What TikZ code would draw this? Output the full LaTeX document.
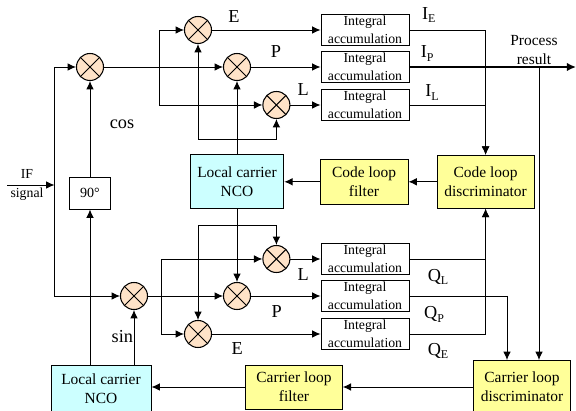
\documentclass[tikz,border=0pt]{standalone}
\usepackage{fontspec}
\setmainfont{Liberation Serif}
\usetikzlibrary{arrows.meta}
\definecolor{mixfill}{HTML}{FFE3C8}
\definecolor{ncofill}{HTML}{CCFFFF}
\definecolor{loopfill}{HTML}{FFFF99}
\newcommand{\lowsub}[1]{\raisebox{-0.45ex}{\fontsize{8.5}{8.5}\selectfont #1}}
\tikzset{
  mixer/.style={circle, draw, fill=mixfill, line width=0.75pt, minimum size=0.675cm, inner sep=0pt,
    path picture={\draw[line width=0.7pt] ([shift={(0.1cm,-0.1cm)}]path picture bounding box.north west) -- ([shift={(-0.1cm,0.1cm)}]path picture bounding box.south east);
      \draw[line width=0.7pt] ([shift={(0.1cm,0.1cm)}]path picture bounding box.south west) -- ([shift={(-0.1cm,-0.1cm)}]path picture bounding box.north east);}},
  integ/.style={rectangle, draw, line width=0.7pt, minimum width=2.2cm, minimum height=0.775cm, inner sep=0pt, align=center, font=\fontsize{9.8}{12.4}\selectfont},
  block/.style={rectangle, draw, line width=0.7pt, inner sep=0pt, align=center, font=\fontsize{11}{13.6}\selectfont},
  sig/.style={line width=0.7pt, -{Latex[length=6pt,width=5.5pt]}},
  wire/.style={line width=0.7pt},
  lbl/.style={inner sep=0pt, font=\fontsize{13}{13}\selectfont}
}
\begin{document}
\begin{tikzpicture}
\useasboundingbox (0,0) rectangle (14.4,10.275);
% mixers, cos branch
\node [mixer] (mixCos) at (2.25cm, 8.6cm) {};
\node [mixer] (mixIE) at (4.95cm, 9.525cm) {};
\node [mixer] (mixIP) at (5.925cm, 8.6cm) {};
\node [mixer] (mixIL) at (6.91cm, 7.65cm) {};
% mixers, sin branch
\node [mixer] (mixSin) at (3.35cm, 2.875cm) {};
\node [mixer] (mixQL) at (6.91cm, 3.8cm) {};
\node [mixer] (mixQP) at (5.925cm, 2.875cm) {};
\node [mixer] (mixQE) at (4.95cm, 1.925cm) {};
% accumulators
\node [integ] (intIE) at (9.125cm, 9.525cm) {Integral\\accumulation};
\node [integ] (intIP) at (9.125cm, 8.6cm) {Integral\\accumulation};
\node [integ] (intIL) at (9.125cm, 7.65cm) {Integral\\accumulation};
\node [integ] (intQL) at (9.125cm, 3.8cm) {Integral\\accumulation};
\node [integ] (intQP) at (9.125cm, 2.875cm) {Integral\\accumulation};
\node [integ] (intQE) at (9.125cm, 1.925cm) {Integral\\accumulation};
% blocks
\node [block, minimum width=1.03cm, minimum height=0.8cm, font=\fontsize{10}{12}\selectfont] (shift90) at (2.25cm, 5.45cm) {90°};
\node [block, fill=ncofill, minimum width=2.34cm, minimum height=1.35cm] (ncoCode) at (5.925cm, 5.73cm) {Local carrier\\NCO};
\node [block, fill=loopfill, minimum width=2.2cm, minimum height=1.125cm] (filterCode) at (9.1cm, 5.73cm) {Code loop\\filter};
\node [block, fill=loopfill, minimum width=2.425cm, minimum height=1.325cm] (discCode) at (12.14cm, 5.73cm) {Code loop\\discriminator};
\node [block, fill=ncofill, minimum width=2.5cm, minimum height=1.2cm] (ncoCarrier) at (2.525cm, 0.55cm) {Local carrier\\NCO};
\node [block, fill=loopfill, minimum width=2.41cm, minimum height=1.1cm] (filterCarrier) at (7.35cm, 0.6cm) {Carrier loop\\filter};
\node [block, fill=loopfill, minimum width=2.425cm, minimum height=1.325cm] (discCarrier) at (13.05cm, 0.6cm) {Carrier loop\\discriminator};
% free ends and forks
\coordinate (ifStart) at (0.175cm, 5.65cm);
\coordinate (ifJoin) at (1.3625cm, 5.65cm);
\coordinate (forkCos) at (3.99cm, 8.6cm);
\coordinate (forkSin) at (4.04cm, 2.875cm);
\coordinate (forkUp) at (5.925cm, 6.8cm);
\coordinate (forkDown) at (5.925cm, 4.65cm);
\coordinate (resultEnd) at (14.4cm, 8.6cm);
\coordinate (resultFork) at (13.475cm, 8.6cm);
\coordinate (qpTurn) at (12.675cm, 2.875cm);
% input side
\draw [sig] (ifStart) -- (ifJoin);
\draw [sig] (ifJoin) |- (mixCos.west);
\draw [sig] (ifJoin) |- (mixSin.west);
\draw [sig] (shift90.north) -- (mixCos.south);
\draw [sig] (shift90.south |- ncoCarrier.north) -- (shift90.south);
\draw [sig] (mixSin.south |- ncoCarrier.north) -- (mixSin.south);
% in phase
\draw [sig] (mixCos.east) -- (mixIP.west);
\draw [sig] (forkCos) |- (mixIE.west);
\draw [sig] (forkCos) |- (mixIL.west);
\draw [sig] (ncoCode.north) -- (mixIP.south);
\draw [sig] (forkUp) -| (mixIE.south);
\draw [sig] (forkUp) -| (mixIL.south);
\draw [sig] (mixIE.east) -- (intIE.west);
\draw [sig] (mixIP.east) -- (intIP.west);
\draw [sig] (mixIL.east) -- (intIL.west);
% quadrature
\draw [sig] (mixSin.east) -- (mixQP.west);
\draw [sig] (forkSin) |- (mixQL.west);
\draw [sig] (forkSin) |- (mixQE.west);
\draw [sig] (ncoCode.south) -- (mixQP.north);
\draw [sig] (forkDown) -| (mixQE.north);
\draw [sig] (forkDown) -| (mixQL.north);
\draw [sig] (mixQL.east) -- (intQL.west);
\draw [sig] (mixQP.east) -- (intQP.west);
\draw [sig] (mixQE.east) -- (intQE.west);
% to the discriminators
\draw [sig] (intIE.east) -| (discCode.north);
\draw [sig] (intIL.east) -| (discCode.north);
\draw [line width=1.1pt, -{Latex[length=6.5pt,width=6pt]}] (intIP.east) -- (resultEnd);
\draw [sig] (resultFork) -- (resultFork |- discCarrier.north);
\draw [sig] (intQL.east) -| (discCode.south);
\draw [sig] (intQE.east) -| (discCode.south);
\draw [wire] (intQP.east) -- (qpTurn);
\draw [sig] (qpTurn) -- (qpTurn |- discCarrier.north);
% back to the NCOs
\draw [sig] (discCode.west) -- (filterCode.east);
\draw [sig] (filterCode.west) -- (ncoCode.east);
\draw [sig] (discCarrier.west) -- (filterCarrier.east);
\draw [sig] (filterCarrier.west) -- (filterCarrier.west -| ncoCarrier.east);
% labels
\node [font=\fontsize{9.8}{9.8}\selectfont, inner sep=0pt] (ifLabel) at (0.675cm, 5.92cm) {IF};
\node [font=\fontsize{9.8}{9.8}\selectfont, inner sep=0pt] (signalLabel) at (0.675cm, 5.42cm) {signal};
\node [lbl] (labelCos) at (3.05cm, 7.18cm) {cos};
\node [lbl] (labelSin) at (3.06cm, 1.85cm) {sin};
\node [lbl] (labelIE) at (5.85cm, 9.85cm) {E};
\node [lbl] (labelIP) at (6.9cm, 8.98cm) {P};
\node [lbl] (labelIL) at (7.58cm, 8.03cm) {L};
\node [lbl] (labelQL) at (7.58cm, 3.4cm) {L};
\node [lbl] (labelQP) at (6.92cm, 2.48cm) {P};
\node [lbl] (labelQE) at (5.93cm, 1.57cm) {E};
\node [lbl] (labelSE) at (10.72cm, 9.9cm) {I\lowsub{E}};
\node [lbl] (labelSP) at (10.68cm, 8.93cm) {I\lowsub{P}};
\node [lbl] (labelSL) at (10.8cm, 7.97cm) {I\lowsub{L}};
\node [lbl] (labelSQL) at (10.95cm, 3.35cm) {Q\lowsub{L}};
\node [lbl] (labelSQP) at (10.85cm, 2.42cm) {Q\lowsub{P}};
\node [lbl] (labelSQE) at (10.95cm, 1.5cm) {Q\lowsub{E}};
\node [font=\fontsize{11}{13.6}\selectfont, align=center, inner sep=0pt] (labelResult) at (13.35cm, 9.02cm) {Process\\result};
\end{tikzpicture}
\end{document}
